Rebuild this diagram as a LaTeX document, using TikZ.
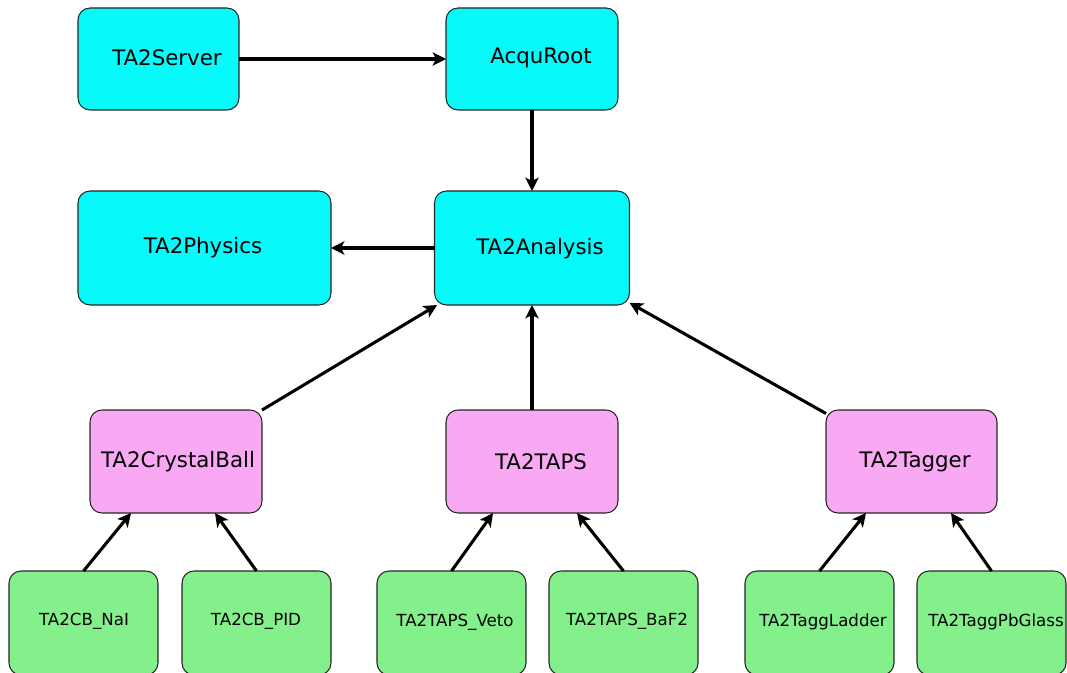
\documentclass[tikz,border=0pt]{standalone}
\usepackage{fontspec}
\setmainfont{DejaVu Sans}
\usetikzlibrary{arrows.meta,calc}
\definecolor{boxcyan}{RGB}{6,250,250}
\definecolor{boxpink}{RGB}{249,168,244}
\definecolor{boxgreen}{RGB}{132,240,140}
\begin{document}
\begin{tikzpicture}[x=0.75pt,y=-0.75pt,
  box/.style 2 args={draw=black!85,line width=0.8pt,rounded corners=9pt,
    minimum width=#1*0.75pt,minimum height=#2*0.75pt,inner sep=0pt,outer sep=0pt},
  core/.style={fill=boxcyan},
  detector/.style={fill=boxpink},
  part/.style={fill=boxgreen},
  bigtext/.style={inner sep=0pt,yshift=-1.5pt,font=\fontsize{16}{19}\selectfont},
  smalltext/.style={inner sep=0pt,yshift=-1pt,font=\fontsize{12.5}{15}\selectfont},
  link/.style={line width=2.3pt,-{Stealth[length=10pt,width=10pt,inset=2.5pt]}}]
\useasboundingbox (0,0) rectangle (1067,673);

% upper row: framework classes
\node[box={161}{102},core] (server) at (158.5,59) {};
\node[box={172}{102},core] (acqu) at (532,59) {};
\node[box={253}{114},core] (phys) at (204.5,248) {};
\node[box={195}{114},core] (ana) at (532,248) {};
\node[bigtext] (tserver) at (167,56) {TA2Server};
\node[bigtext] (tacqu) at (541,56) {AcquRoot};
\node[bigtext] (tphys) at (203,246) {TA2Physics};
\node[bigtext] (tana) at (540,247) {TA2Analysis};

% middle row: detector apparatus
\node[box={172}{103},detector] (cb) at (176,461.5) {};
\node[box={172}{103},detector] (taps) at (532,461.5) {};
\node[box={171}{103},detector] (tagger) at (911.5,461.5) {};
\node[bigtext] (tcb) at (178,460) {TA2CrystalBall};
\node[bigtext] (ttaps) at (541,460) {TA2TAPS};
\node[bigtext] (ttagger) at (915,460) {TA2Tagger};

% bottom row: detector components
\node[box={149}{104},part] (nai) at (83.5,623) {};
\node[box={149}{104},part] (pid) at (256.5,623) {};
\node[box={149}{104},part] (veto) at (451.5,623) {};
\node[box={149}{104},part] (baf) at (623.5,623) {};
\node[box={149}{104},part] (ladder) at (819.5,623) {};
\node[box={149}{104},part] (pbg) at (991.5,623) {};
\node[smalltext] (tnai) at (84,620) {TA2CB\_NaI};
\node[smalltext] (tpid) at (256,620) {TA2CB\_PID};
\node[smalltext] (tveto) at (455,621) {TA2TAPS\_Veto};
\node[smalltext] (tbaf) at (627,620) {TA2TAPS\_BaF2};
\node[smalltext] (tladder) at (823,621) {TA2TaggLadder};
\node[smalltext] (tpbg) at (996,621) {TA2TaggPbGlass};

% connectors
\draw[link] (server.east) -- (acqu.west);
\draw[link] (acqu.south) -- (ana.north);
\draw[link] (ana.west) -- (phys.east);
\draw[link] (cb) -- (ana);
\draw[link] (taps.north) -- (ana.south);
\draw[link] (tagger) -- (ana);

\draw[link] (nai.north) -- ($(cb.south)+(-45,0)$);
\draw[link] (pid.north) -- ($(cb.south)+(39,0)$);
\draw[link] (veto.north) -- ($(taps.south)+(-39,0)$);
\draw[link] (baf.north) -- ($(taps.south)+(45,0)$);
\draw[link] (ladder.north) -- ($(tagger.south)+(-45.5,0)$);
\draw[link] (pbg.north) -- ($(tagger.south)+(39.5,0)$);
\end{tikzpicture}
\end{document}
